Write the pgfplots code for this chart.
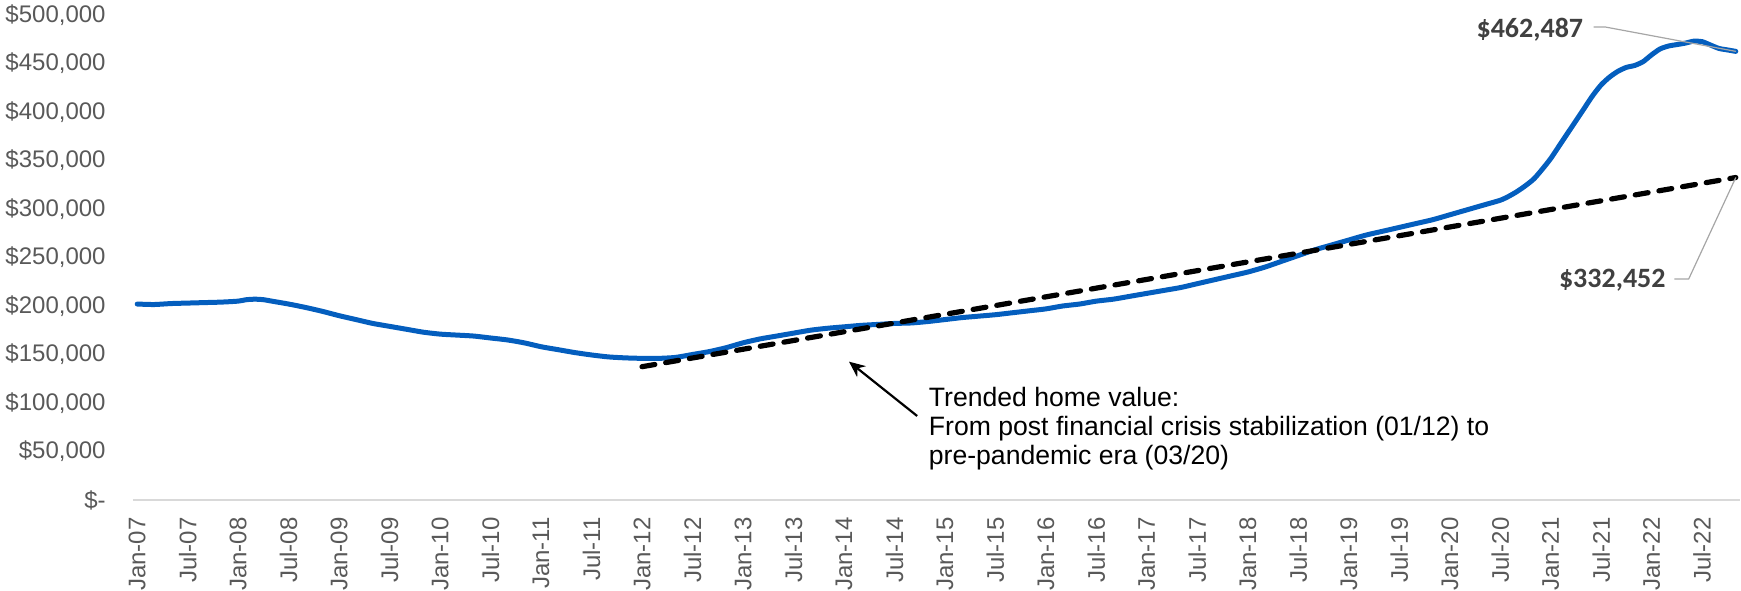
\documentclass[border=0pt]{standalone}
\usepackage{fontspec}
\setmainfont{Liberation Sans}
\newfontfamily\carlito{Carlito}
\usepackage{pgfplots}
\usepackage{pgfplotstable}
\pgfplotsset{compat=1.18}
\usetikzlibrary{arrows.meta}
\definecolor{lineblue}{RGB}{4,94,190}
\definecolor{ticklab}{HTML}{595959}
\definecolor{axisgray}{HTML}{D9D9D9}
\definecolor{labgray}{HTML}{404040}
\definecolor{leadgray}{HTML}{A6A6A6}

\pgfplotstableread{
m v
0 202000
2 201500
4 202500
6 203000
8 203500
10 204000
12 205000
13 206500
14 207000
15 206500
16 205000
18 202000
20 198500
22 194500
24 190000
26 186000
28 182000
30 179000
32 176000
34 173000
36 171000
38 170000
40 169000
42 167000
44 165000
46 162000
48 158000
50 155000
52 152000
54 149500
56 147500
58 146500
60 146000
62 146000
64 147000
66 150000
68 153000
70 157000
72 162000
74 166000
76 169000
78 172000
80 175000
82 177000
84 178500
86 180000
88 181000
90 182000
92 182500
94 184000
96 186000
98 188000
100 189500
102 191000
104 193000
106 195000
108 197000
110 200000
112 202000
114 205000
116 207000
118 210000
120 213000
122 216000
124 219000
126 223000
128 227000
130 231000
132 235000
134 240000
136 246000
138 252000
140 258000
142 263000
144 268000
146 273000
148 277000
150 281000
152 285000
154 289000
156 294000
158 299000
160 304000
162 309000
163 313000
164 318000
165 324000
166 331000
167 341000
168 352000
169 365000
170 378000
171 391000
172 404000
173 417000
174 428000
175 436000
176 442000
177 446000
178 448000
179 452000
180 459000
181 465000
182 468000
183 469500
184 471000
185 473000
186 472500
187 469000
188 465500
189 464000
190 462487
}\homevalue

\pgfplotstableread{
m v
60 137400
190 332452
}\trend

\begin{document}
\begin{tikzpicture}
\begin{axis}[
  scale only axis,
  width=803.5pt, height=242.5pt,
  xmin=-0.5, xmax=190.5,
  ymin=0, ymax=500000,
  scaled y ticks=false,
  clip=false,
  axis x line*=bottom,
  axis y line*=left,
  y axis line style={draw=none},
  x axis line style={draw=axisgray, line width=1pt},
  major tick length=0pt,
  tick style={draw=none},
  xtick={0,6,...,186},
  xticklabels={Jan-07,Jul-07,Jan-08,Jul-08,Jan-09,Jul-09,Jan-10,Jul-10,Jan-11,Jul-11,Jan-12,Jul-12,Jan-13,Jul-13,Jan-14,Jul-14,Jan-15,Jul-15,Jan-16,Jul-16,Jan-17,Jul-17,Jan-18,Jul-18,Jan-19,Jul-19,Jan-20,Jul-20,Jan-21,Jul-21,Jan-22,Jul-22},
  x tick label style={rotate=90, anchor=east, inner sep=0pt, font=\fontsize{12}{14}\selectfont, text=ticklab},
  xticklabel shift=8.5pt,
  ytick={0,50000,...,500000},
  yticklabels={\$-,{\$50,000},{\$100,000},{\$150,000},{\$200,000},{\$250,000},{\$300,000},{\$350,000},{\$400,000},{\$450,000},{\$500,000}},
  y tick label style={anchor=east, inner sep=0pt, font=\fontsize{12}{14}\selectfont, text=ticklab},
  yticklabel shift=13.5pt,
]
\addplot[lineblue, line width=2.5pt, smooth, tension=0.4, line cap=round, line join=round] table[x=m, y=v] {\homevalue};
\addplot[black, line width=2.6pt, line cap=round, dash pattern=on 6.5pt off 5.5pt] table[x=m, y=v] {\trend};

\draw[leadgray, line width=0.6pt] (axis cs:173.1,487600) -- (axis cs:174.5,487600) -- (axis cs:190,462487);
\node[anchor=east, inner sep=0pt, text=labgray, font=\carlito\bfseries\fontsize{14}{16}\selectfont] at (axis cs:171.9,484600) {\$462,487};

\draw[leadgray, line width=0.6pt] (axis cs:182.7,227800) -- (axis cs:184.4,227800) -- (axis cs:190,332452);
\node[anchor=east, inner sep=0pt, text=labgray, font=\carlito\bfseries\fontsize{14}{16}\selectfont] at (axis cs:181.7,226800) {\$332,452};

\draw[black, line width=1.1pt, -{Stealth[length=8pt, width=7pt]}] (axis cs:92.7,86600) -- (axis cs:84.6,142600);
\node[anchor=north west, align=left, inner sep=0pt, font=\fontsize{13.3}{14.5}\selectfont] at (axis cs:94.05,116500)
  {Trended home value:\\From post financial crisis stabilization (01/12) to\\pre-pandemic era (03/20)};
\path (axis cs:-0.5,500000) ++(-66.5pt,7.5pt);
\end{axis}
\end{tikzpicture}
\end{document}
